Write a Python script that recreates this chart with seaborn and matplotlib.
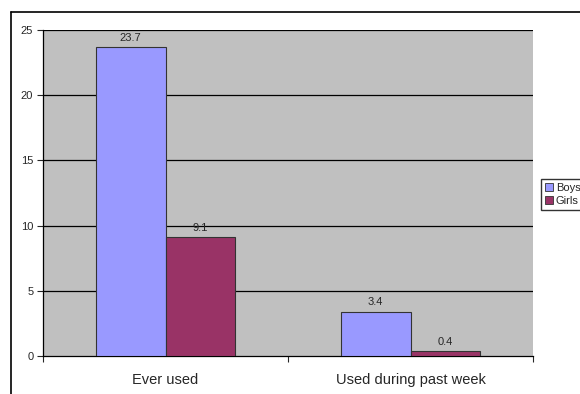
import matplotlib
matplotlib.use('Agg')
import matplotlib.pyplot as plt
import seaborn as sns
import pandas as pd
from matplotlib.lines import Line2D

categories = ['Ever used', 'Used during past week']
groups = ['Boys', 'Girls']
boys = [23.7, 3.4]
girls = [9.1, 0.4]
yticks = [0, 5, 10, 15, 20, 25]

df = pd.DataFrame({
    'category': categories * 2,
    'group': ['Boys'] * len(boys) + ['Girls'] * len(girls),
    'value': boys + girls,
})

sns.set_style('white')
plt.rcParams['font.family'] = ['Liberation Sans', 'DejaVu Sans']

fig = plt.figure(figsize=(5.8, 3.94), dpi=100)
ax = fig.add_axes([43/580, 1 - 356/394, (533 - 43)/580, (356 - 30)/394])
ax.set_facecolor('#C0C0C0')

sns.barplot(data=df, x='category', y='value', hue='group', hue_order=groups,
            palette=['#9999FF', '#993366'], width=0.571, saturation=1,
            edgecolor='#333333', linewidth=0.8, ax=ax, zorder=3)

for c in ax.containers:
    ax.bar_label(c, fmt='%.1f', fontsize=8, padding=3)

ax.set_ylim(0, 25)
ax.set_xlim(-0.5, 1.5)
ax.set_yticks(yticks)
for y in yticks[1:]:
    ax.axhline(y, color='black', lw=0.9, zorder=1)
ax.tick_params(axis='y', direction='out', length=4, width=0.8, labelsize=8, left=True, pad=3)
ax.set_xticks([0, 1])
ax.set_xticklabels(categories, fontsize=10.5)
ax.set_xticks([-0.5, 0.5, 1.5], minor=True)
ax.tick_params(axis='x', which='major', length=0, pad=12)
ax.tick_params(axis='x', which='minor', direction='out', length=4, width=0.8, bottom=True)
ax.set_xlabel('')
ax.set_ylabel('')
for s in ['top', 'right']:
    ax.spines[s].set_visible(False)
for s in ['left', 'bottom']:
    ax.spines[s].set_color('black')
    ax.spines[s].set_linewidth(0.9)

ax.legend_.remove()
handles = [plt.Rectangle((0, 0), 1, 1, fc=col, ec='#333333', lw=0.6) for col in ['#9999FF', '#993366']]
fig.legend(handles, groups, loc='upper left', bbox_to_anchor=(541/580, 1 - 179/394),
           fontsize=8, frameon=True, fancybox=False, edgecolor='black',
           handlelength=0.7, handleheight=0.7, handletextpad=0.3, borderpad=0.35,
           labelspacing=0.3, borderaxespad=0)

# outer chart frame
fig.add_artist(Line2D([11/580, 11/580], [0, 1 - 12/394], color='black', lw=1.2))
fig.add_artist(Line2D([11/580, 1], [1 - 12/394, 1 - 12/394], color='black', lw=1.2))

fig.savefig('out.png', dpi=100)
